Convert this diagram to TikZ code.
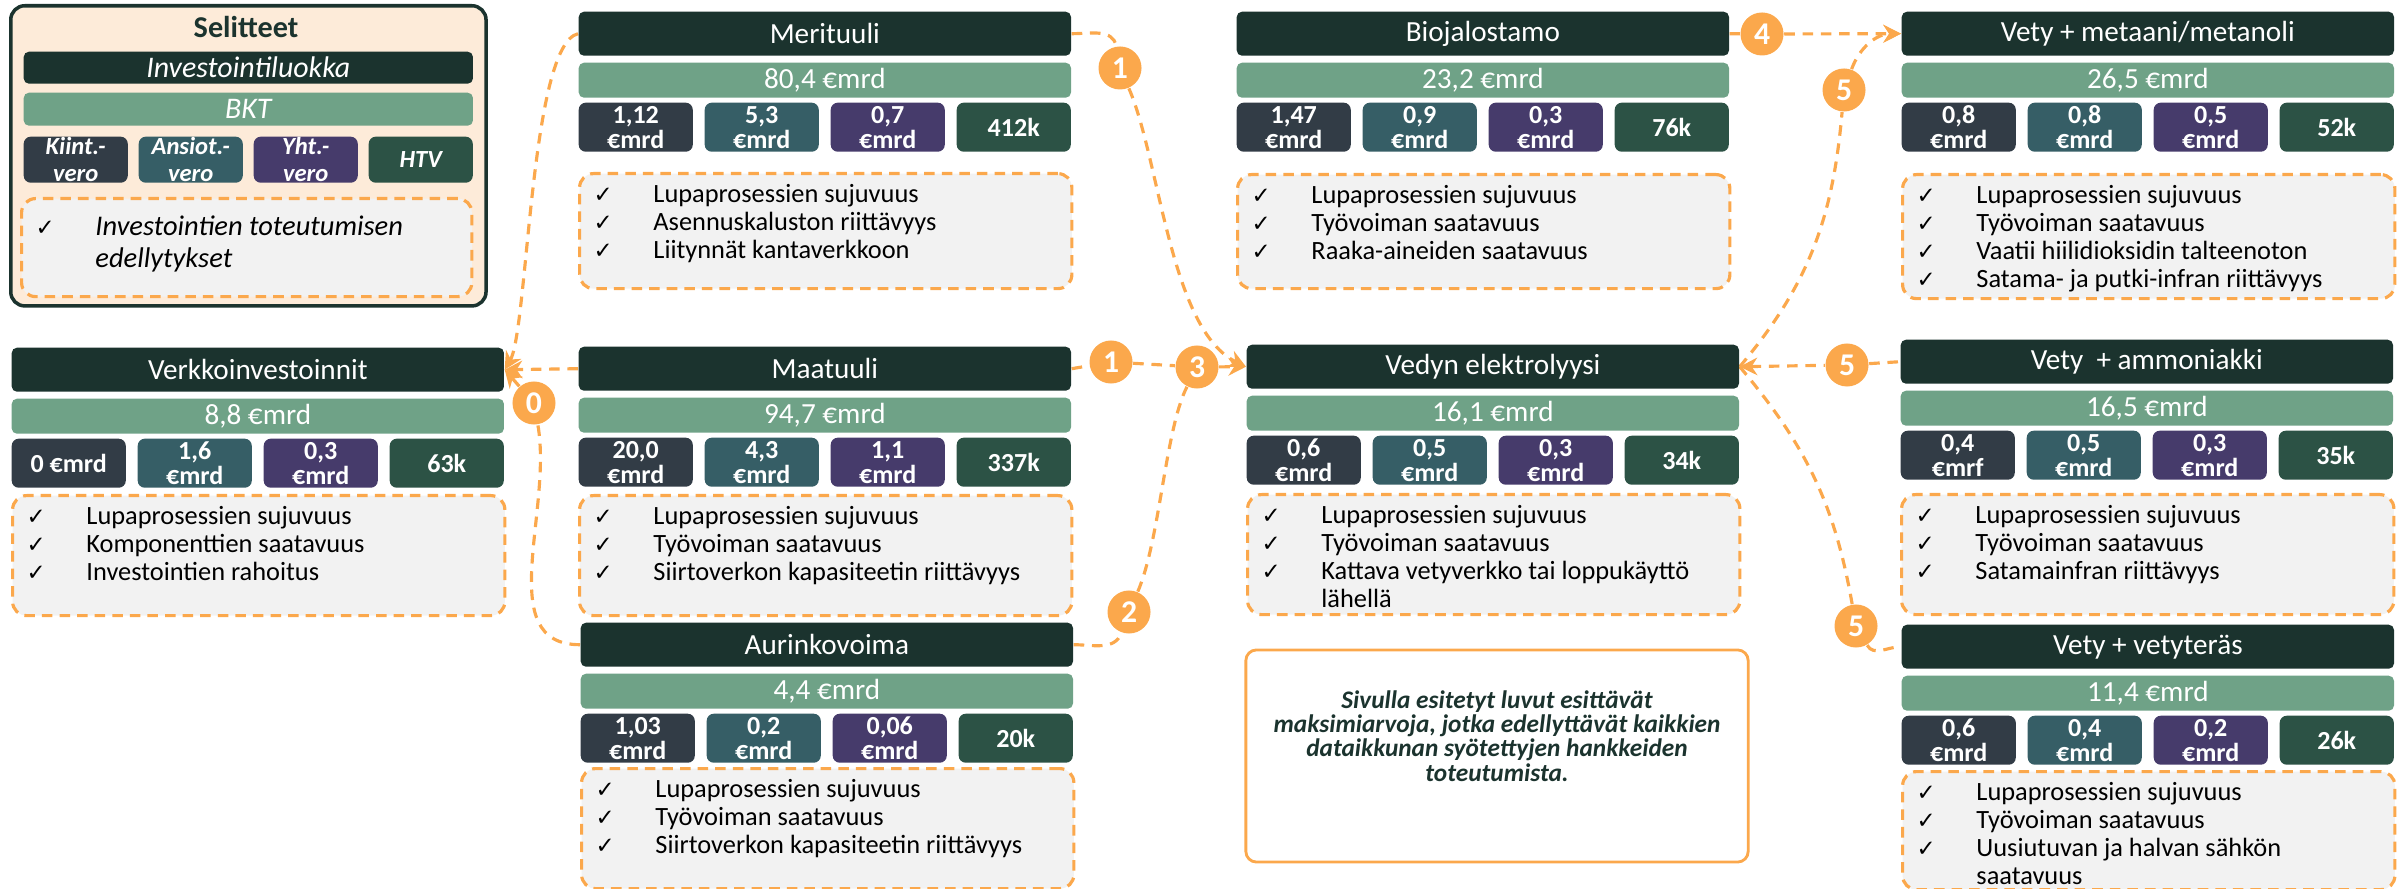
\documentclass[tikz,border=0pt]{standalone}
\usepackage{fontspec}
\setmainfont{Carlito}
\newfontfamily\merkki{DejaVu Sans}
\usetikzlibrary{arrows.meta}

\definecolor{tumma}{HTML}{1B332E}
\definecolor{vihrea}{HTML}{6FA287}
\definecolor{v1}{HTML}{323C46}
\definecolor{v2}{HTML}{365E66}
\definecolor{v3}{HTML}{463B6B}
\definecolor{v4}{HTML}{2C5245}
\definecolor{oranssi}{HTML}{FBA84C}
\definecolor{harmaa}{HTML}{F2F2F2}
\definecolor{persikka}{HTML}{FDEBD9}

\pgfdeclarelayer{tausta}
\pgfsetlayers{tausta,main}

\newcommand{\ok}{\makebox[17pt][l]{\upshape\merkki\fontsize{6.5}{8}\selectfont ✓}}
\newcommand{\ei}{\hspace*{17pt}}
\newcommand{\lista}[2]{\parbox[t][\dimexpr#1-5pt\relax][t]{\dimexpr4.92cm-8pt\relax}{\raggedright\strut#2}}

%% header, BKT bar and the four tax/HTV boxes of one sector
\newcommand{\sektori}[6]{%
  \node[otsikko] (#1) at (#2,#3) {#4};
  \node[bkt] (#1-bkt) at (#2,#3+51) {#5};
  \foreach \luku [count=\i] in {#6}
    {\node[arvo, fill=v\i] (#1-\i) at (#2+126*\i-126,#3+91) {\luku};}
}

\begin{document}
\begin{tikzpicture}[x=0.01cm, y=-0.01cm, >={Stealth[length=5pt,width=5pt]},
  otsikko/.style={anchor=north west, fill=tumma, text=white, rounded corners=1.5pt,
    minimum width=4.92cm, minimum height=0.44cm, inner sep=0pt, font=\fontsize{8.3}{9}\selectfont},
  bkt/.style={anchor=north west, fill=vihrea, text=white, rounded corners=1.5pt,
    minimum width=4.92cm, minimum height=0.35cm, inner sep=0pt, font=\fontsize{8.3}{9}\selectfont},
  arvo/.style={anchor=north west, text=white, rounded corners=2pt, minimum width=1.14cm,
    minimum height=0.49cm, inner sep=0pt, align=center, font=\bfseries\fontsize{7.4}{7.1}\selectfont},
  ehdot/.style={anchor=north west, draw=oranssi, fill=harmaa, line width=0.9pt,
    dash pattern=on 3pt off 2pt, rounded corners=4pt, inner xsep=4pt, inner ysep=2.5pt,
    font=\fontsize{7.5}{8}\selectfont},
  yhteys/.style={draw=oranssi, line width=0.9pt, dash pattern=on 3pt off 2.2pt},
  numero/.style={circle, fill=oranssi, text=white, minimum size=0.43cm, inner sep=0pt,
    font=\bfseries\fontsize{9}{9}\selectfont},
  huom/.style={draw=oranssi, line width=0.8pt, rounded corners=3pt, minimum width=5.02cm,
    minimum height=2.12cm},
  huomteksti/.style={align=center, text=tumma, inner sep=0pt,
    font=\bfseries\itshape\fontsize{7.2}{6.9}\selectfont}]

\useasboundingbox (0,0) rectangle (2407,889);

      %%  legend  %%
\node[anchor=north west, draw=tumma, fill=persikka, line width=1pt, rounded corners=4pt,
  minimum width=4.75cm, minimum height=3cm] (selitteet) at (9,4) {};
\node[text=tumma, font=\bfseries\fontsize{8.6}{9}\selectfont] (sel-otsikko) at (246,27) {Selitteet};
\node[otsikko, minimum width=4.49cm, minimum height=0.32cm, font=\itshape\fontsize{8.5}{9}\selectfont]
  (sel-luokka) at (23,51) {Investointiluokka};
\node[bkt, minimum width=4.49cm, minimum height=0.33cm, font=\itshape\fontsize{8.5}{9}\selectfont]
  (sel-bkt) at (23,92) {BKT};
\foreach \luku [count=\i] in {{Kiint.-\\vero},{Ansiot.-\\vero},{Yht.-\\vero},HTV}
  {\node[arvo, fill=v\i, minimum width=1.04cm, minimum height=0.46cm,
    font=\bfseries\itshape\fontsize{7}{7.6}\selectfont] (sel-\i) at (23+115*\i-115,136) {\luku};}
\node[ehdot, font=\itshape\fontsize{8.1}{9}\selectfont] (sel-ehdot) at (20,197)
  {\parbox[t][\dimexpr0.98cm-5pt\relax][t]{\dimexpr4.5cm-8pt\relax}{\raggedright\rule{0pt}{8pt}\ok Investointien toteutumisen\\\ei edellytykset}};

      %%  sectors  %%
\sektori{verkko}{11}{347}{Verkkoinvestoinnit}{8,8 €mrd}{{0 €mrd},{1,6\\€mrd},{0,3\\€mrd},63k}
\node[ehdot] (verkko-e) at (11,494) {\lista{1.2cm}{\ok Lupaprosessien sujuvuus\\\ok Komponenttien saatavuus\\\ok Investointien rahoitus}};

\sektori{merituuli}{578}{11}{Merituuli}{80,4 €mrd}{{1,12\\€mrd},{5,3\\€mrd},{0,7\\€mrd},412k}
\node[ehdot] (merituuli-e) at (578,172) {\lista{1.15cm}{\ok Lupaprosessien sujuvuus\\\ok Asennuskaluston riittävyys\\\ok Liitynnät kantaverkkoon}};

\sektori{maatuuli}{578}{346}{Maatuuli}{94,7 €mrd}{{20,0\\€mrd},{4,3\\€mrd},{1,1\\€mrd},337k}
\node[ehdot] (maatuuli-e) at (578,494) {\lista{1.2cm}{\ok Lupaprosessien sujuvuus\\\ok Työvoiman saatavuus\\\ok Siirtoverkon kapasiteetin riittävyys}};

\sektori{aurinko}{580}{622}{Aurinkovoima}{4,4 €mrd}{{1,03\\€mrd},{0,2\\€mrd},{0,06\\€mrd},20k}
\node[ehdot] (aurinko-e) at (580,767) {\lista{1.2cm}{\ok Lupaprosessien sujuvuus\\\ok Työvoiman saatavuus\\\ok Siirtoverkon kapasiteetin riittävyys}};

\sektori{bio}{1236}{11}{Biojalostamo}{23,2 €mrd}{{1,47\\€mrd},{0,9\\€mrd},{0,3\\€mrd},76k}
\node[ehdot] (bio-e) at (1236,173) {\lista{1.14cm}{\ok Lupaprosessien sujuvuus\\\ok Työvoiman saatavuus\\\ok Raaka-aineiden saatavuus}};

\sektori{vedyn}{1246}{344}{Vedyn elektrolyysi}{16,1 €mrd}{{0,6\\€mrd},{0,5\\€mrd},{0,3\\€mrd},34k}
\node[ehdot] (vedyn-e) at (1246,493) {\lista{1.2cm}{\ok Lupaprosessien sujuvuus\\\ok Työvoiman saatavuus\\\ok Kattava vetyverkko tai loppukäyttö\\\ei lähellä}};

\sektori{metaani}{1901}{11}{Vety + metaani/metanoli}{26,5 €mrd}{{0,8\\€mrd},{0,8\\€mrd},{0,5\\€mrd},52k}
\node[ehdot] (metaani-e) at (1901,173) {\lista{1.24cm}{\ok Lupaprosessien sujuvuus\\\ok Työvoiman saatavuus\\\ok Vaatii hiilidioksidin talteenoton\\\ok Satama- ja putki-infran riittävyys}};

\sektori{ammoniakki}{1900}{339}{Vety\ \ + ammoniakki}{16,5 €mrd}{{0,4\\€mrf},{0,5\\€mrd},{0,3\\€mrd},35k}
\node[ehdot] (ammoniakki-e) at (1900,493) {\lista{1.2cm}{\ok Lupaprosessien sujuvuus\\\ok Työvoiman saatavuus\\\ok Satamainfran riittävyys}};

\sektori{vetyteras}{1901}{624}{Vety + vetyteräs}{11,4 €mrd}{{0,6\\€mrd},{0,4\\€mrd},{0,2\\€mrd},26k}
\node[ehdot] (vetyteras-e) at (1901,770) {\lista{1.18cm}{\ok Lupaprosessien sujuvuus\\\ok Työvoiman saatavuus\\\ok Uusiutuvan ja halvan sähkön\\\ei saatavuus}};

\node[huom] (huomio) at (1497,756) {};
\node[huomteksti] (huomio-teksti) at (1497,736) {Sivulla esitetyt luvut esittävät\\maksimiarvoja, jotka edellyttävät kaikkien\\dataikkunan syötettyjen hankkeiden\\toteutumista.};

      %%  numbered steps  %%
\node[numero] (n0) at (534,403) {0};
\node[numero] (n1a) at (1120,68) {1};
\node[numero] (n1b) at (1111,362) {1};
\node[numero] (n2) at (1129,612) {2};
\node[numero] (n3) at (1197,367) {3};
\node[numero] (n4) at (1762,34) {4};
\node[numero] (n5a) at (1844,90) {5};
\node[numero] (n5b) at (1847,365) {5};
\node[numero] (n5c) at (1856,626) {5};

\begin{pgfonlayer}{tausta}
\draw[yhteys,->] (merituuli.west) .. controls (530,45) and (528,330) .. (verkko.east);
\draw[yhteys,->] (maatuuli.west) -- (verkko.east);
\draw[yhteys] (aurinko.west) to[out=180,in=-80] (n0);
\draw[yhteys,->] (n0) -- (verkko.east);

\draw[yhteys] (merituuli.east) to[out=0,in=100] (n1a);
\draw[yhteys,->] (n1a) .. controls (1160,160) and (1170,330) .. (vedyn.west);
\draw[yhteys] (maatuuli.east) -- (n1b) -- (n3);
\draw[yhteys,->] (n3) -- (vedyn.west);
\draw[yhteys] (aurinko.east) to[out=0,in=-110] (n2);
\draw[yhteys] (n2) .. controls (1160,540) and (1165,430) .. (n3);

\draw[yhteys] (bio.east) -- (n4);
\draw[yhteys,->] (n4) -- (metaani.west);
\draw[yhteys] (vedyn.east) to[out=50,in=-95] (n5a);
\draw[yhteys,->] (n5a) to[out=70,in=180] (metaani.west);
\draw[yhteys,<-] (vedyn.east) -- (n5b);
\draw[yhteys] (n5b) -- (ammoniakki.west);
\draw[yhteys] (vedyn.east) to[out=-50,in=100] (n5c);
\draw[yhteys] (n5c) to[out=-60,in=180] (vetyteras.west);
\end{pgfonlayer}

\end{tikzpicture}
\end{document}
